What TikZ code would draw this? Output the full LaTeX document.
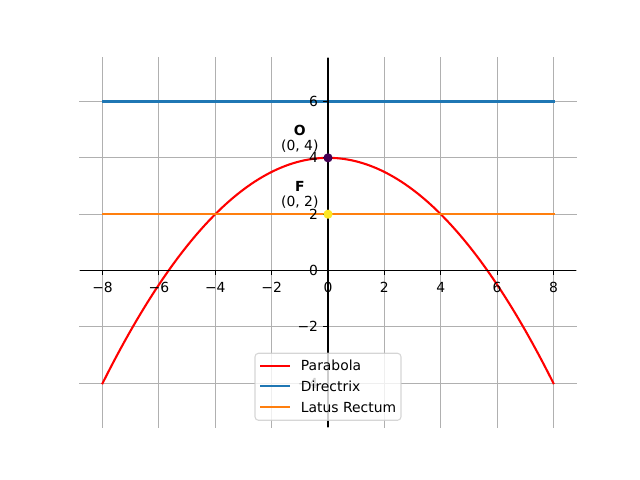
\documentclass[tikz,border=0pt]{standalone}
\usepackage{fontspec}
\setmainfont{DejaVu Sans}
\definecolor{mplblue}{HTML}{1F77B4}
\definecolor{mplorange}{HTML}{FF7F0E}
\definecolor{gridgray}{HTML}{B0B0B0}
\definecolor{vpurple}{HTML}{440154}
\definecolor{vyellow}{HTML}{FDE725}
\definecolor{legedge}{HTML}{CCCCCC}
\begin{document}
\begin{tikzpicture}[x=20.2909pt,y=20.2909pt,
  font=\fontsize{10}{12}\selectfont,
  gridline/.style={draw=gridgray, line width=0.8pt, line cap=rect},
  curve/.style={line width=1.5pt, line cap=rect},
  spine/.style={draw=black, line width=0.8pt},
  xlab/.style={anchor=north, inner sep=0pt, text height=7.29pt, text depth=0pt, yshift=-8.3pt},
  ylab/.style={anchor=east, inner sep=0pt, text height=7.29pt, text depth=0pt, xshift=-7pt},
  ptlab/.style={anchor=base, inner sep=0pt},
  legtext/.style={anchor=west, inner sep=0pt, text height=7.29pt, text depth=0pt}]
\useasboundingbox (-11.639,-7.431) rectangle (11.071,9.601);
% grid
\foreach \x in {-8,-6,...,8} \draw[gridline] (\x,-5.5575) -- (\x,7.5575);
\foreach \y in {-4,-2,...,6} \draw[gridline] (-8.8,\y) -- (8.8,\y);
% curves
\draw[curve, red] plot[domain=-8:8, samples=161, smooth] (\x,{4-\x*\x/8});
\draw[curve, mplblue] (-8,6) -- (8,6);
\draw[curve, mplorange] (-8,2) -- (8,2);
% spines
\draw[spine] (0,-5.5575) -- (0,7.5575);
\draw[spine] (-8.8,0) -- (8.8,0);
% x ticks
\foreach \x/\l in {-8/−8,-6/−6,-4/−4,-2/−2,0/0,2/2,4/4,6/6,8/8} {
  \draw[spine] (\x,0) -- ++(0,-3.5pt);
  \node[xlab] (xt\x) at (\x,0) {\l};
}
% y ticks
\foreach \y/\l in {-4/−4,-2/−2,0/0,2/2,4/4,6/6} {
  \draw[spine] (0,\y) -- ++(-3.5pt,0);
  \node[ylab] (yt\y) at (0,\y) {\l};
}
% points
\fill[vpurple] (0,4) circle (3.3pt);
\fill[vyellow] (0,2) circle (3.3pt);
\node[ptlab] (olab) at (-1,4.79) {\textbf{O}};
\node[ptlab] (ocoord) at (-1,4.26) {(0, 4)};
\node[ptlab] (flab) at (-1,2.79) {\textbf{F}};
\node[ptlab] (fcoord) at (-1,2.26) {(0, 2)};
% legend
\draw[draw=legedge, fill=white, fill opacity=0.8, draw opacity=0.8, line width=0.8pt, rounded corners=2.5pt] (-2.59,-5.313) rectangle (2.59,-2.935);
\draw[curve, red, line cap=butt] (-2.413,-3.376) -- (-1.348,-3.376);
\draw[curve, mplblue, line cap=butt] (-2.413,-4.107) -- (-1.348,-4.107);
\draw[curve, mplorange, line cap=butt] (-2.413,-4.842) -- (-1.348,-4.842);
\node[legtext] (l1) at (-0.969,-3.376) {Parabola};
\node[legtext] (l2) at (-0.969,-4.107) {Directrix};
\node[legtext] (l3) at (-0.969,-4.842) {Latus Rectum};
\end{tikzpicture}
\end{document}
